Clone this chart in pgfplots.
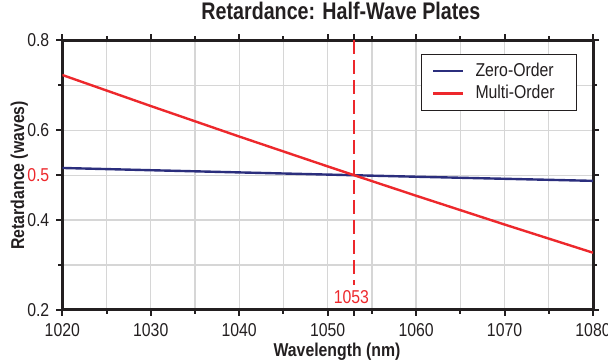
\documentclass[border=0pt]{standalone}
\usepackage{fontspec}
\setmainfont{Liberation Sans}[FakeStretch=0.85]
\newfontfamily\titlefont{Liberation Sans}[FakeStretch=0.82]
\usepackage{pgfplots}
\pgfplotsset{compat=1.18}
\definecolor{zerob}{RGB}{43,46,125}
\definecolor{multr}{RGB}{237,40,44}
\definecolor{txt}{RGB}{35,31,32}
\definecolor{gridc}{RGB}{214,214,214}
\begin{document}
\begin{tikzpicture}
\begin{axis}[
  scale only axis, width=265.35pt, height=134.75pt,
  xmin=1020, xmax=1080, ymin=0.2, ymax=0.8,
  xtick={1020,1030,...,1080},
  minor xtick={1025,1035,...,1075},
  ytick={0.2,0.4,0.5,0.6,0.8},
  yticklabels={0.2,0.4,\textcolor{multr}{0.5},0.6,0.8},
  minor ytick={0.3,0.7},
  extra x ticks={1053}, extra x tick labels={},
  extra x tick style={grid=none},
  grid=both,
  major grid style={gridc, line width=0.7pt},
  minor grid style={gridc, line width=0.7pt},
  axis line style={line width=1.5pt, txt},
  tick style={line width=1pt, txt},
  major tick length=3pt, minor tick length=2pt,
  tick align=outside,
  /pgf/number format/1000 sep={},
  /pgf/number format/assume math mode=true,
  ticklabel style={font=\fontsize{9.3}{10}\selectfont, text=txt},
  title={Retardance: Half-Wave Plates},
  title style={at={(axis description cs:0.525,1)}, anchor=base, yshift=4.4pt, inner sep=0pt,
    font=\titlefont\fontsize{12}{13}\selectfont\bfseries, text=txt},
  xlabel={Wavelength (nm)},
  xlabel style={at={(axis description cs:0.5176,0)}, anchor=base, yshift=-23.5pt, inner sep=0pt,
    font=\fontsize{9.3}{10}\selectfont\bfseries, text=txt},
  ylabel={Retardance (waves)},
  ylabel style={at={(axis description cs:-0.081,0.5)}, anchor=center, inner sep=0pt,
    font=\fontsize{9.3}{10}\selectfont\bfseries, text=txt},
  legend style={at={(1,1)}, anchor=north east, xshift=-7.85pt, yshift=-6.75pt,
    draw=txt, line width=0.5pt, fill=white,
    inner xsep=5.35pt, inner ysep=2.7pt, column sep=4pt, row sep=0pt,
    font=\fontsize{9.3}{10}\selectfont, text=txt,
    nodes={inner xsep=1.5pt, inner ysep=1.15pt, text height=7pt, text depth=2pt}},
  legend cell align=left,
  legend image code/.code={\draw[#1, line width=1.3pt] (0pt,0pt) -- (15pt,0pt);},
]
\coordinate (SW) at (rel axis cs:0,0);
\coordinate (NE) at (rel axis cs:1,1);
\addplot[multr, line width=0.8pt, dash pattern=on 7pt off 3pt, forget plot]
  coordinates {(1053,0.8) (1053,0.2557)};
\addplot[zerob, line width=1.2pt] coordinates {
  (1020,0.5162) (1030,0.5112) (1040,0.5063) (1053,0.5) (1060,0.4967) (1070,0.4921) (1080,0.4875)};
\addlegendentry{\makebox[43.8pt][l]{Zero-Order}}
\addplot[multr, line width=1.2pt] coordinates {
  (1020,0.7232) (1030,0.6541) (1040,0.5862) (1050,0.5197) (1053,0.5) (1060,0.4544) (1070,0.3903) (1080,0.3275)};
\addlegendentry{\makebox[43.8pt][l]{Multi-Order}}
\node[text=multr, font=\fontsize{9.3}{10}\selectfont, anchor=base, inner sep=0pt, yshift=3.35pt, xshift=-1.4pt]
  at (axis cs:1053,0.2) {1053};
\end{axis}
\pgfresetboundingbox
\path[use as bounding box] ([shift={(-31.15pt,-25pt)}]SW) rectangle ([shift={(7.5pt,20.25pt)}]NE);
\end{tikzpicture}
\end{document}
